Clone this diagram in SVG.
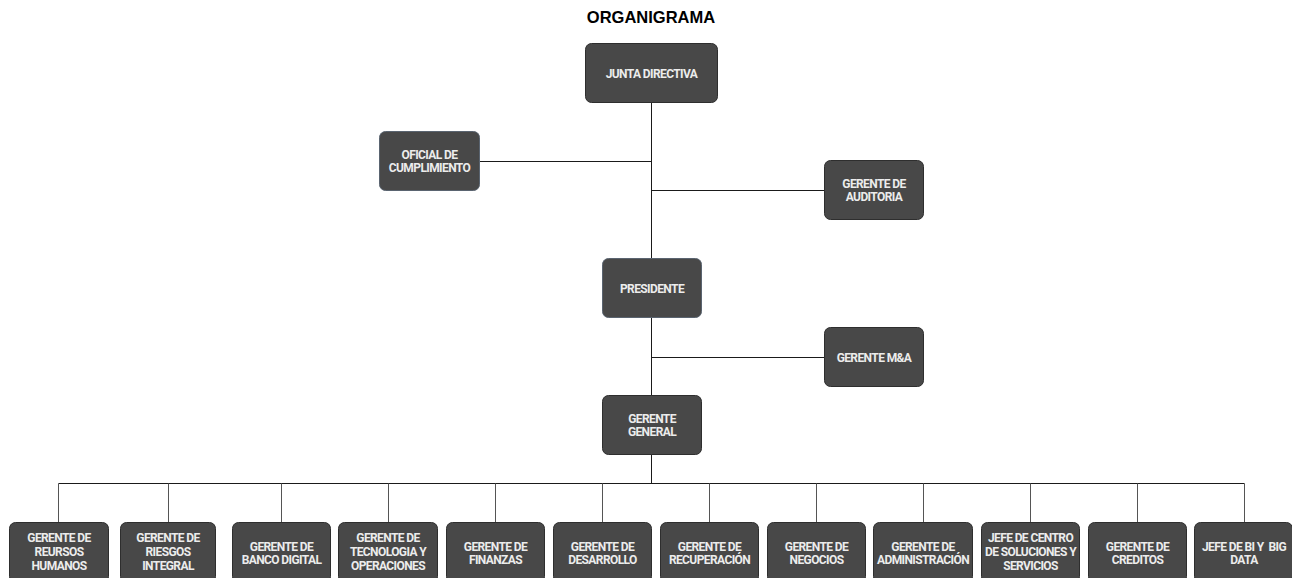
<svg xmlns="http://www.w3.org/2000/svg" width="1292" height="578" viewBox="0 0 1292 578">
<style>
.box{fill:#484848;stroke:#2e2e2e;stroke-width:1}
.box2{fill:#484848;stroke:#5a6470;stroke-width:1}
.t{font-family:Roboto,"Liberation Sans",sans-serif;font-weight:bold;font-size:12px;fill:#ececec;text-anchor:middle;letter-spacing:-0.6px}
.c{stroke:#1a1a1a;stroke-width:1;fill:none}
.c2{stroke:#555;stroke-width:1;fill:none}
.title{font-family:"Liberation Sans",Arial,sans-serif;font-weight:bold;font-size:16.5px;fill:#000;text-anchor:middle}
</style>
<rect width="1292" height="578" fill="#fff"/>
<text class="title" x="651" y="23">ORGANIGRAMA</text>
<g id="connectors">
<path class="c" d="M651.5 102V395"/>
<path class="c" d="M479 161.5H651.5"/>
<path class="c" d="M651.5 190.5H824"/>
<path class="c" d="M651.5 357.5H824"/>
<path class="c" d="M651.5 454V483.5"/>
<path class="c" d="M58.5 483.5H1244.5"/>
<path class="c2" d="M58.5 483.5V522M168.5 483.5V522M281.5 483.5V522M388.5 483.5V522M495.5 483.5V522M602.5 483.5V522M709.5 483.5V522M816.5 483.5V522M923.5 483.5V522M1030.5 483.5V522M1137.5 483.5V522M1244.5 483.5V522"/>
</g>
<g id="junta"><rect class="box" x="585.5" y="43.5" width="132" height="59" rx="6"/><text class="t" x="651.5" y="77.5">JUNTA DIRECTIVA</text></g>
<g id="oficial"><rect class="box2" x="379.5" y="131.5" width="100" height="59" rx="6"/><text class="t" x="429.5" y="158.5">OFICIAL DE</text><text class="t" x="429.5" y="171.5">CUMPLIMIENTO</text></g>
<g id="auditoria"><rect class="box" x="824.5" y="160.5" width="99" height="59" rx="6"/><text class="t" x="874" y="188">GERENTE DE</text><text class="t" x="874" y="201">AUDITORIA</text></g>
<g id="presidente"><rect class="box2" x="602.5" y="258.5" width="99" height="59" rx="6"/><text class="t" x="652" y="292.5">PRESIDENTE</text></g>
<g id="ma"><rect class="box" x="824.5" y="327.5" width="99" height="59" rx="6"/><text class="t" x="874" y="361.5">GERENTE M&amp;A</text></g>
<g id="general"><rect class="box" x="602.5" y="395.5" width="99" height="59" rx="6"/><text class="t" x="652" y="422.5">GERENTE</text><text class="t" x="652" y="435.5">GENERAL</text></g>
<g id="rrhh"><rect class="box" x="9.5" y="522.5" width="99" height="60" rx="6"/><text class="t" x="59" y="542">GERENTE DE</text><text class="t" x="59" y="556">REURSOS</text><text class="t" x="59" y="570">HUMANOS</text></g>
<g id="riesgos"><rect class="box" x="120.5" y="522.5" width="95" height="60" rx="6"/><text class="t" x="168" y="542">GERENTE DE</text><text class="t" x="168" y="556">RIESGOS</text><text class="t" x="168" y="570">INTEGRAL</text></g>
<g id="banco"><rect class="box" x="232.5" y="522.5" width="98" height="60" rx="6"/><text class="t" x="281.5" y="551">GERENTE DE</text><text class="t" x="281.5" y="564">BANCO DIGITAL</text></g>
<g id="tecnologia"><rect class="box" x="338.5" y="522.5" width="99" height="60" rx="6"/><text class="t" x="388" y="542">GERENTE DE</text><text class="t" x="388" y="556">TECNOLOGIA Y</text><text class="t" x="388" y="570">OPERACIONES</text></g>
<g id="finanzas"><rect class="box" x="446.5" y="522.5" width="98" height="60" rx="6"/><text class="t" x="495.5" y="551">GERENTE DE</text><text class="t" x="495.5" y="564">FINANZAS</text></g>
<g id="desarrollo"><rect class="box" x="553.5" y="522.5" width="98" height="60" rx="6"/><text class="t" x="602.5" y="551">GERENTE DE</text><text class="t" x="602.5" y="564">DESARROLLO</text></g>
<g id="recuperacion"><rect class="box" x="660.5" y="522.5" width="98" height="60" rx="6"/><text class="t" x="709.5" y="551">GERENTE DE</text><text class="t" x="709.5" y="564">RECUPERACIÓN</text></g>
<g id="negocios"><rect class="box" x="767.5" y="522.5" width="98" height="60" rx="6"/><text class="t" x="816.5" y="551">GERENTE DE</text><text class="t" x="816.5" y="564">NEGOCIOS</text></g>
<g id="administracion"><rect class="box" x="873.5" y="522.5" width="99" height="60" rx="6"/><text class="t" x="923" y="551">GERENTE DE</text><text class="t" x="923" y="564">ADMINISTRACIÓN</text></g>
<g id="soluciones"><rect class="box" x="981.5" y="522.5" width="98" height="60" rx="6"/><text class="t" x="1030.5" y="542">JEFE DE CENTRO</text><text class="t" x="1030.5" y="556">DE SOLUCIONES Y</text><text class="t" x="1030.5" y="570">SERVICIOS</text></g>
<g id="creditos"><rect class="box" x="1088.5" y="522.5" width="98" height="60" rx="6"/><text class="t" x="1137.5" y="551">GERENTE DE</text><text class="t" x="1137.5" y="564">CREDITOS</text></g>
<g id="bi"><rect class="box" x="1194.5" y="522.5" width="98" height="60" rx="6"/><text class="t" x="1244" y="551" style="white-space:pre">JEFE DE BI Y  BIG</text><text class="t" x="1244" y="564">DATA</text></g>
</svg>
